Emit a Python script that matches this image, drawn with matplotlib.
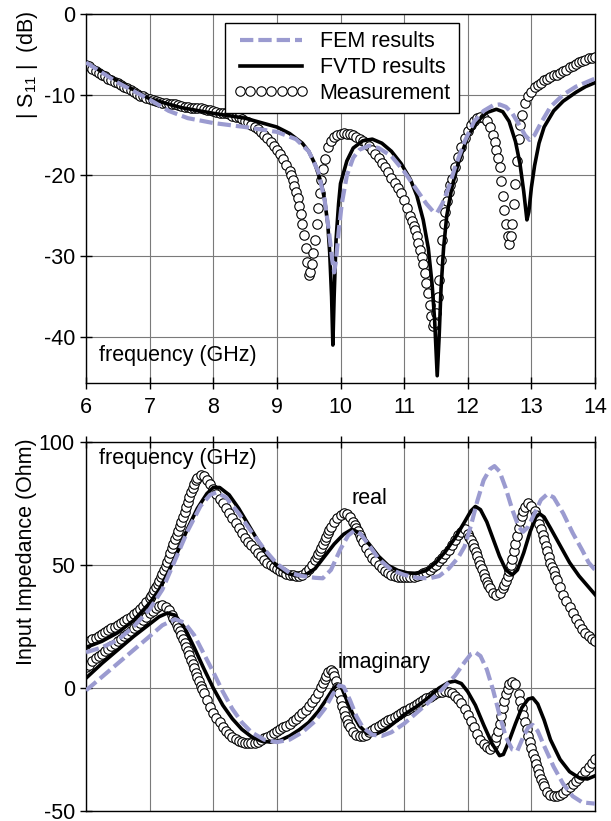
import numpy as np
import matplotlib
matplotlib.use("Agg")
import matplotlib.pyplot as plt

plt.rcParams['font.family'] = ['Liberation Sans', 'DejaVu Sans']
plt.rcParams['mathtext.default'] = 'regular'
plt.rcParams['axes.unicode_minus'] = False

# ---------------- data ----------------
freq_ticks = [6, 7, 8, 9, 10, 11, 12, 13, 14]
s11_ticks = [0, -10, -20, -30, -40]
z_ticks = [100, 50, 0, -50]

# measurement grid (GHz)
meas_f = np.linspace(6.0, 14.0, 161)

meas_s11 = [
    -6.3, -6.5, -6.8, -7.0, -7.3, -7.5, -7.7, -8.0, -8.2, -8.4,
    -8.6, -8.8, -9.0, -9.2, -9.4, -9.7, -9.9, -10.1, -10.2, -10.4,
    -10.5, -10.6, -10.8, -10.9, -11.0, -11.0, -11.1, -11.2, -11.2, -11.3,
    -11.4, -11.5, -11.5, -11.6, -11.6, -11.7, -11.7, -11.8, -11.9, -11.9,
    -12.0, -12.1, -12.2, -12.2, -12.3, -12.4, -12.6, -12.7, -12.8, -13.0,
    -13.2, -13.4, -13.7, -14.0, -14.3, -14.6, -15.0, -15.4, -15.8, -16.3,
    -16.8, -17.4, -18.0, -18.7, -19.5, -20.6, -22.0, -23.8, -26.0, -29.0,
    -32.3, -31.0, -28.0, -24.0, -20.5, -18.0, -16.5, -15.7, -15.2, -15.0,
    -14.8, -14.7, -14.8, -14.9, -15.0, -15.2, -15.5, -15.7, -16.0, -16.4,
    -16.8, -17.3, -17.8, -18.4, -19.0, -19.6, -20.3, -20.9, -21.5, -22.2,
    -23.0, -24.0, -25.0, -26.2, -27.5, -29.2, -31.0, -33.3, -36.0, -38.7,
    -37.0, -33.0, -28.0, -24.5, -22.0, -20.4, -19.0, -17.7, -16.5, -15.4,
    -14.5, -13.8, -13.2, -12.9, -12.8, -12.9, -13.3, -14.0, -15.0, -16.8,
    -19.0, -22.5, -26.0, -28.5, -26.0, -21.0, -15.5, -12.5, -11.0, -10.2,
    -9.6, -9.1, -8.8, -8.5, -8.2, -8.0, -7.8, -7.6, -7.5, -7.3,
    -7.1, -6.9, -6.6, -6.4, -6.2, -6.0, -5.8, -5.7, -5.5, -5.4,
    -5.3,
]
# extra measured points in the steep parts (denser sampling there)
meas_s11_xf = [9.225, 9.275, 9.325, 9.375, 9.425, 9.475, 9.525, 9.575, 9.625, 9.675, 9.725,
               11.125, 11.175, 11.225, 11.275, 11.325, 11.375, 11.425, 11.475, 11.525,
               11.575, 11.625, 11.675, 11.725,
               12.425, 12.475, 12.525, 12.575, 12.625, 12.675, 12.725, 12.775, 12.825]
meas_s11_x = [-20.0, -21.3, -22.8, -24.8, -27.4, -30.7, -32.0, -29.6, -26.0, -22.2, -19.2,
              -25.6, -26.8, -28.3, -30.1, -32.1, -34.6, -37.4, -38.3, -35.0,
              -30.5, -26.0, -23.2, -21.2,
              -15.8, -17.8, -20.7, -24.3, -27.5, -27.5, -23.5, -18.2, -13.7]

meas_real = [
    18.0, 19.0, 19.8, 20.5, 21.2, 22.0, 22.7, 23.4, 24.2, 25.0,
    25.8, 26.6, 27.4, 28.2, 29.0, 29.9, 30.9, 32.0, 33.3, 34.8,
    36.6, 38.6, 41.0, 43.6, 46.4, 49.5, 53.0, 56.8, 60.5, 64.0,
    67.5, 71.5, 75.5, 79.5, 83.0, 85.5, 86.5, 86.0, 84.5, 82.8,
    81.0, 79.0, 77.0, 75.0, 73.0, 71.0, 69.0, 67.0, 65.0, 63.0,
    61.0, 59.5, 58.0, 56.5, 55.0, 53.5, 52.2, 51.0, 50.0, 49.0,
    48.2, 47.5, 47.0, 46.5, 46.0, 45.8, 45.6, 45.6, 46.0, 47.0,
    48.5, 50.0, 52.0, 54.5, 57.0, 60.0, 63.0, 65.5, 67.5, 69.0,
    70.3, 71.3, 70.8, 69.5, 67.5, 65.0, 62.3, 59.5, 57.0, 55.0,
    53.0, 51.5, 50.0, 48.7, 47.6, 46.7, 46.0, 45.5, 45.2, 45.0,
    45.0, 45.0, 45.1, 45.3, 45.6, 46.0, 46.6, 47.3, 48.0, 49.0,
    50.0, 51.5, 53.0, 54.5, 56.0, 58.0, 60.0, 62.0, 63.5, 64.5,
    62.5, 60.0, 57.0, 53.5, 50.0, 46.5, 43.0, 40.5, 38.8, 38.0,
    38.5, 40.5, 43.5, 47.5, 52.5, 58.5, 65.0, 70.0, 73.5, 75.0,
    74.0, 71.8, 68.8, 64.5, 60.0, 55.5, 51.0, 47.5, 44.0, 41.0,
    38.0, 35.5, 33.0, 30.5, 28.0, 26.0, 24.0, 22.5, 21.0, 19.8,
    19.0,
]
meas_real_xf = [7.025, 7.075, 7.125, 7.175, 7.225, 7.275, 7.325, 7.375, 7.425, 7.475,
                7.525, 7.575, 7.625, 7.675, 7.725,
                9.625, 9.675, 9.725, 9.775, 9.825, 10.225, 10.275, 10.325,
                12.025, 12.075, 12.125, 12.175, 12.225, 12.275, 12.325,
                12.575, 12.625, 12.675, 12.725, 12.775, 12.825, 12.875,
                13.075, 13.125, 13.175, 13.225, 13.275, 13.325, 13.375]
meas_real_x = [37.5, 39.8, 42.3, 45.0, 47.9, 51.2, 54.9, 58.7, 62.2, 65.7,
               69.5, 73.5, 77.5, 81.3, 84.4,
               53.2, 55.7, 58.5, 61.5, 64.3, 66.3, 63.7, 60.9,
               61.3, 58.5, 55.3, 51.8, 48.2, 44.7, 41.7,
               42.0, 45.5, 50.0, 55.5, 61.8, 67.7, 72.0,
               70.4, 66.7, 62.3, 57.7, 53.2, 49.2, 45.7]

meas_imag = [
    8.5, 9.5, 10.8, 12.0, 13.0, 14.0, 15.0, 16.0, 17.0, 18.0,
    19.0, 20.0, 21.0, 22.0, 23.0, 24.2, 25.4, 26.6, 27.8, 29.0,
    30.3, 31.5, 32.6, 33.4, 33.6, 33.0, 31.8, 29.8, 27.2, 24.4,
    21.5, 18.2, 15.0, 11.5, 8.0, 4.5, 1.0, -2.2, -5.0, -7.7,
    -10.0, -12.2, -14.0, -15.8, -17.4, -18.8, -20.0, -20.9, -21.5, -22.0,
    -22.3, -22.5, -22.5, -22.3, -22.0, -21.3, -20.5, -19.8, -19.0, -18.3,
    -17.5, -16.8, -16.0, -15.3, -14.5, -13.5, -12.5, -11.3, -10.0, -8.8,
    -7.5, -5.8, -4.0, -2.0, 0.5, 3.5, 6.5, 7.5, 5.0, 0.5,
    -5.0, -9.5, -13.0, -16.0, -18.0, -19.2, -19.6, -19.4, -19.0, -18.0,
    -17.0, -16.2, -15.5, -14.8, -14.0, -13.2, -12.5, -11.8, -11.0, -10.2,
    -9.5, -8.8, -8.0, -7.2, -6.5, -5.8, -5.0, -4.2, -3.5, -2.8,
    -2.2, -1.8, -1.5, -1.4, -1.6, -2.2, -3.2, -4.5, -6.2, -8.5,
    -11.0, -13.5, -16.0, -18.5, -21.0, -22.8, -24.0, -24.6, -23.5, -20.0,
    -14.5, -8.0, -2.5, 1.5, 2.5, 1.5, -2.5, -8.0, -14.0, -19.5,
    -24.5, -29.0, -33.0, -36.8, -40.0, -42.3, -43.5, -44.0, -44.0, -43.3,
    -42.5, -41.5, -40.3, -39.0, -37.8, -36.5, -35.2, -33.8, -32.3, -30.6,
    -29.0,
]
meas_imag_xf = [7.375, 7.425, 7.475, 7.525, 7.575, 7.625, 7.675, 7.725, 7.775, 7.825,
                9.725, 9.775, 9.875, 9.925, 9.975, 10.025, 10.075, 10.125,
                12.425, 12.475, 12.525, 12.575, 12.625,
                12.825, 12.875, 12.925, 12.975, 13.025, 13.075, 13.125, 13.175]
meas_imag_x = [28.5, 25.8, 23.0, 19.9, 16.6, 13.3, 9.8, 6.3, 2.8, -0.6,
               2.0, 5.0, 6.5, 2.8, -2.2, -7.3, -11.3, -14.5,
               -22.0, -17.5, -11.3, -5.2, -0.3,
               -5.2, -11.0, -16.8, -22.0, -26.8, -31.0, -35.0, -38.5]

# simulated curves: (frequency GHz, value)
fvtd_s11 = [
    (6.0, -6.0), (6.5, -8.3), (7.0, -10.5), (7.5, -11.6), (8.0, -12.3),
    (8.5, -12.9), (9.0, -14.0), (9.2, -14.8), (9.4, -16.0), (9.5, -17.0),
    (9.6, -18.6), (9.7, -21.0), (9.75, -23.0), (9.8, -26.0), (9.83, -29.5),
    (9.86, -35.0), (9.88, -41.0), (9.9, -35.0), (9.93, -28.0), (9.97, -23.5),
    (10.0, -21.0), (10.1, -18.2), (10.2, -16.6), (10.35, -15.7), (10.5, -15.5),
    (10.65, -16.0), (10.8, -17.0), (10.95, -18.5), (11.1, -20.5), (11.2, -22.5),
    (11.3, -25.5), (11.38, -29.0), (11.44, -33.5), (11.48, -38.0), (11.52, -44.8),
    (11.55, -40.0), (11.58, -34.0), (11.62, -29.0), (11.67, -25.0), (11.75, -21.5),
    (11.85, -18.5), (12.0, -15.2), (12.15, -13.3), (12.3, -12.2), (12.45, -11.8),
    (12.55, -12.1), (12.65, -13.3), (12.75, -15.8), (12.82, -18.5), (12.88, -22.0),
    (12.93, -25.5), (12.96, -24.5), (13.0, -21.5), (13.05, -18.8), (13.12, -16.0),
    (13.2, -14.0), (13.35, -12.0), (13.5, -10.8), (13.7, -9.7), (13.85, -9.0),
    (14.0, -8.5),
]

fem_s11 = [
    (6.0, -6.0), (6.5, -8.5), (7.0, -10.6), (7.3, -12.0), (7.6, -12.9),
    (8.0, -13.5), (8.5, -14.0), (9.0, -14.6), (9.3, -15.5), (9.5, -17.0),
    (9.65, -19.5), (9.75, -23.0), (9.82, -27.0), (9.87, -30.5), (9.9, -32.0),
    (9.93, -30.5), (9.97, -27.0), (10.02, -23.5), (10.1, -20.0), (10.2, -17.8),
    (10.3, -16.8), (10.45, -16.3), (10.6, -16.6), (10.8, -17.6), (11.0, -19.5),
    (11.2, -21.8), (11.35, -23.5), (11.45, -24.4), (11.52, -24.6), (11.6, -23.5),
    (11.7, -21.5), (11.8, -19.0), (11.95, -15.8), (12.1, -13.3), (12.25, -12.0),
    (12.4, -11.3), (12.5, -11.2), (12.6, -11.5), (12.7, -12.3), (12.8, -13.6),
    (12.9, -15.0), (12.97, -15.6), (13.05, -15.0), (13.15, -13.5), (13.3, -11.5),
    (13.5, -10.0), (13.7, -9.0), (13.85, -8.5), (14.0, -8.0),
]

fvtd_real = [
    (6.0, 16.5), (6.25, 19.0), (6.5, 22.5), (6.75, 27.5), (7.0, 34.5),
    (7.15, 40.0), (7.3, 47.5), (7.45, 56.0), (7.6, 65.0), (7.75, 73.0),
    (7.9, 79.0), (8.0, 81.5), (8.1, 81.5), (8.25, 78.5), (8.4, 73.0),
    (8.55, 66.5), (8.7, 60.0), (8.85, 54.0), (9.0, 49.5), (9.15, 46.8),
    (9.3, 45.6), (9.45, 46.0), (9.6, 48.5), (9.75, 53.5), (9.9, 58.5),
    (10.05, 62.5), (10.18, 64.5), (10.3, 63.0), (10.45, 58.5), (10.6, 53.5),
    (10.75, 49.8), (10.9, 47.8), (11.05, 46.8), (11.2, 46.6), (11.35, 47.8),
    (11.5, 51.0), (11.65, 55.5), (11.8, 61.0), (11.95, 67.5), (12.05, 72.0),
    (12.12, 73.8), (12.2, 72.5), (12.3, 67.5), (12.4, 60.5), (12.5, 53.5),
    (12.6, 48.0), (12.7, 46.0), (12.78, 48.0), (12.88, 55.0), (12.98, 63.5),
    (13.07, 69.5), (13.13, 70.8), (13.2, 69.5), (13.3, 65.0), (13.45, 58.0),
    (13.6, 51.0), (13.75, 45.5), (13.9, 41.0), (14.0, 38.0),
]

fem_real = [
    (6.0, 14.5), (6.25, 16.5), (6.5, 19.5), (6.75, 25.0), (7.0, 32.0),
    (7.2, 40.0), (7.4, 52.0), (7.6, 64.0), (7.8, 74.0), (7.95, 78.5),
    (8.05, 79.5), (8.2, 77.5), (8.4, 71.0), (8.6, 63.5), (8.8, 56.5),
    (9.0, 50.5), (9.2, 46.8), (9.4, 45.5), (9.6, 44.8), (9.72, 44.6),
    (9.85, 48.0), (10.0, 56.5), (10.12, 62.0), (10.22, 64.0), (10.32, 62.5),
    (10.45, 58.0), (10.6, 52.5), (10.8, 48.0), (11.0, 46.0), (11.2, 44.8),
    (11.4, 44.6), (11.55, 45.5), (11.7, 48.5), (11.85, 53.0), (11.95, 57.5),
    (12.05, 66.0), (12.15, 76.0), (12.25, 84.5), (12.35, 89.0), (12.42, 90.2),
    (12.5, 88.0), (12.6, 81.0), (12.7, 72.5), (12.8, 65.5), (12.87, 63.5),
    (12.95, 65.5), (13.05, 71.0), (13.15, 76.5), (13.25, 78.8), (13.35, 77.5),
    (13.5, 71.0), (13.65, 63.0), (13.8, 56.0), (13.9, 51.0), (14.0, 48.0),
]

fvtd_imag = [
    (6.0, 4.0), (6.25, 10.0), (6.5, 15.5), (6.75, 21.0), (7.0, 26.0),
    (7.15, 29.0), (7.28, 30.5), (7.4, 29.5), (7.55, 24.5), (7.7, 16.5),
    (7.85, 8.0), (8.0, 0.0), (8.15, -7.0), (8.3, -12.5), (8.45, -16.8),
    (8.6, -19.8), (8.75, -21.5), (8.9, -22.0), (9.05, -21.3), (9.2, -19.5),
    (9.35, -17.0), (9.5, -14.0), (9.65, -9.5), (9.78, -4.5), (9.88, -0.5),
    (9.95, 1.2), (10.02, 0.0), (10.1, -5.0), (10.2, -11.0), (10.3, -15.5),
    (10.42, -18.5), (10.55, -18.8), (10.7, -17.0), (10.85, -14.0), (11.0, -10.8),
    (11.2, -7.5), (11.4, -3.5), (11.55, 0.0), (11.7, 2.3), (11.8, 2.8),
    (11.9, 1.8), (12.0, -1.5), (12.12, -7.0), (12.25, -15.0), (12.38, -22.5),
    (12.5, -27.5), (12.56, -27.0), (12.65, -21.5), (12.75, -14.5), (12.85, -8.0),
    (12.95, -4.5), (13.02, -4.0), (13.1, -6.5), (13.2, -13.0), (13.3, -21.0),
    (13.45, -29.0), (13.6, -34.0), (13.75, -36.5), (13.88, -37.0), (14.0, -35.7),
]

fem_imag = [
    (6.0, -1.0), (6.25, 4.5), (6.5, 10.0), (6.75, 15.5), (7.0, 21.0),
    (7.2, 25.5), (7.4, 28.0), (7.55, 26.5), (7.7, 21.5), (7.85, 14.0),
    (8.0, 6.5), (8.15, -1.5), (8.3, -8.5), (8.45, -14.0), (8.6, -18.0),
    (8.8, -21.0), (9.0, -22.0), (9.2, -21.0), (9.4, -18.0), (9.6, -13.5),
    (9.75, -8.5), (9.88, -2.5), (9.98, 1.0), (10.05, 0.5), (10.15, -5.0),
    (10.25, -11.5), (10.35, -16.0), (10.5, -19.0), (10.65, -19.5), (10.8, -18.0),
    (11.0, -14.5), (11.2, -10.0), (11.4, -5.5), (11.6, -0.5), (11.8, 5.0),
    (11.95, 10.5), (12.05, 13.8), (12.12, 14.5), (12.2, 13.0), (12.3, 7.5),
    (12.4, -1.0), (12.5, -11.0), (12.6, -20.0), (12.7, -25.0), (12.78, -25.5),
    (12.87, -20.0), (12.95, -16.0), (13.02, -15.0), (13.1, -17.5), (13.2, -23.5),
    (13.35, -32.0), (13.5, -39.0), (13.65, -44.0), (13.8, -46.5), (14.0, -47.0),
]

assert len(meas_s11) == len(meas_f)
assert len(meas_real) == len(meas_f)
assert len(meas_imag) == len(meas_f)
assert len(meas_s11_xf) == len(meas_s11_x)
assert len(meas_real_xf) == len(meas_real_x)
assert len(meas_imag_xf) == len(meas_imag_x)


def merged(base_v, extra_f, extra_v):
    f = np.concatenate([meas_f, np.asarray(extra_f)])
    v = np.concatenate([np.asarray(base_v), np.asarray(extra_v)])
    o = np.argsort(f)
    return f[o], v[o]


def xy(pairs):
    f, v = zip(*pairs)
    return np.array(f), np.array(v)


# ---------------- styles ----------------
FS = 15.5
FEM_COLOR = '#9b9bd0'
fem_kw = dict(color=FEM_COLOR, lw=3.0, dashes=[3.2, 1.2], zorder=4)
fvtd_kw = dict(color='black', lw=2.6, zorder=3)
meas_kw = dict(ls='none', marker='o', ms=6.8, mfc='white', mec='black', mew=0.8, zorder=2)

fig = plt.figure(figsize=(6.11, 8.21), dpi=100)
W, H = 611.0, 821.0
ax1 = fig.add_axes([86 / W, (H - 383) / H, 509 / W, 369 / H])
ax2 = fig.add_axes([86 / W, (H - 811) / H, 509 / W, 369 / H])

for ax in (ax1, ax2):
    ax.set_xlim(6, 14)
    ax.set_xticks(freq_ticks)
    ax.grid(True, color='#7a7a7a', lw=0.8)
    ax.set_axisbelow(True)
    for s in ax.spines.values():
        s.set_linewidth(1.0)
    ax.tick_params(direction='inout', length=8, width=1.0, labelsize=FS, pad=4)

# ---- top panel ----
f, v = merged(meas_s11, meas_s11_xf, meas_s11_x)
ax1.plot(f, v, label='Measurement', **meas_kw)
f, v = xy(fvtd_s11)
ax1.plot(f, v, label='FVTD results', **fvtd_kw)
f, v = xy(fem_s11)
ax1.plot(f, v, label='FEM results', **fem_kw)
ax1.set_ylim(-45.7, 0)
ax1.set_yticks(s11_ticks)
ax1.set_yticklabels([str(t) for t in s11_ticks])
ax1.set_xticklabels([str(t) for t in freq_ticks])
ax1.tick_params(axis='x', pad=6)
ax1.text(0.025, 0.045, 'frequency (GHz)', transform=ax1.transAxes, fontsize=FS,
         ha='left', va='bottom')

h, l = ax1.get_legend_handles_labels()
order = [2, 1, 0]
leg = ax1.legend([h[i] for i in order], [l[i] for i in order], loc='upper left',
                 bbox_to_anchor=(0.273, 0.976), fontsize=FS, numpoints=7,
                 handlelength=3.5, handletextpad=0.5, labelspacing=0.22,
                 borderpad=0.4, borderaxespad=0.0, fancybox=False, framealpha=1,
                 edgecolor='black')
leg.get_frame().set_linewidth(1.0)
leg.set_zorder(10)

# ---- bottom panel ----
f, v = merged(meas_real, meas_real_xf, meas_real_x)
ax2.plot(f, v, **meas_kw)
f, v = merged(meas_imag, meas_imag_xf, meas_imag_x)
ax2.plot(f, v, **meas_kw)
f, v = xy(fvtd_real)
ax2.plot(f, v, **fvtd_kw)
f, v = xy(fvtd_imag)
ax2.plot(f, v, **fvtd_kw)
f, v = xy(fem_real)
ax2.plot(f, v, **fem_kw)
f, v = xy(fem_imag)
ax2.plot(f, v, **fem_kw)
ax2.set_ylim(-50, 100)
ax2.set_yticks(z_ticks)
ax2.set_yticklabels([str(t) for t in z_ticks])
ax2.tick_params(axis='x', labelbottom=False, bottom=False, top=True)
ax2.text(0.025, 0.985, 'frequency (GHz)', transform=ax2.transAxes, fontsize=FS,
         ha='left', va='top')
ax2.text(10.18, 77.2, 'real', fontsize=FS, ha='left', va='center', zorder=6)
ax2.text(9.95, 10.2, 'imaginary', fontsize=FS, ha='left', va='center', zorder=6)

# y labels
fig.text(27 / W, 1 - 65 / H, '| S$_{11}$ |  (dB)', rotation=90, fontsize=FS,
         ha='center', va='center')
fig.text(27 / W, 1 - 552 / H, 'Input Impedance (Ohm)', rotation=90, fontsize=FS,
         ha='center', va='center')

fig.savefig('out.png', dpi=100)
